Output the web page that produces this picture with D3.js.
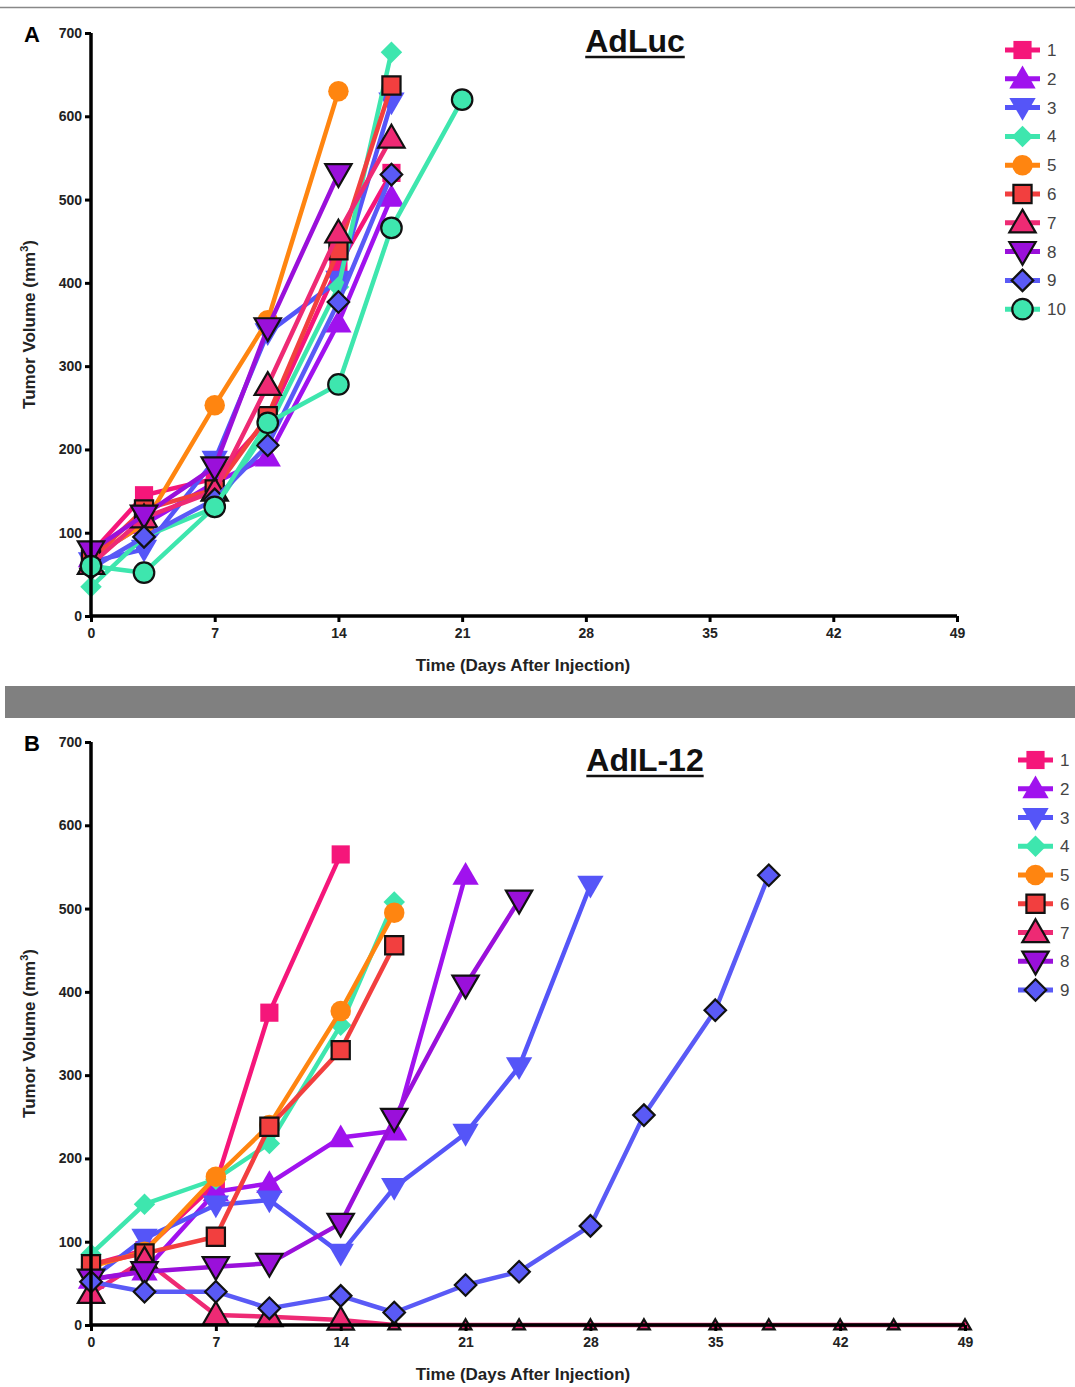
<!DOCTYPE html>
<html><head><meta charset="utf-8">
<script src="https://cdn.jsdelivr.net/npm/d3@7"></script>
<style>body{margin:0;background:#fff;} svg{display:block;font-family:"Liberation Sans",Arial,sans-serif;}</style>
</head><body>
<svg id="chart" width="1075" height="1387"></svg>
<script>
// ---------- data ----------
const seriesNames = ["1","2","3","4","5","6","7","8","9","10"];
const seriesColors = ["#F5167A","#A012EE","#5555F8","#3EE6AE","#FF8510","#F23F3F","#EE2A74","#9A10DA","#5A5AF6","#3EE6AE"];
const seriesShapes = ["square","up","down","diamond","circle","square","up","down","diamond","circle"];
const seriesBordered = [false,false,false,false,false,true,true,true,true,true];

const yTicks = [0,100,200,300,400,500,600,700];
const xTicks = [0,7,14,21,28,35,42,49];

// Panel A: AdLuc
const adLucDays = [0,3,7,10,14,17,21];
const adLuc1  = [75,145,165,235,420,532,null];
const adLuc2  = [70,110,160,191,352,503,null];
const adLuc3  = [65,80,187,340,403,617,null];
const adLuc4  = [35,95,130,225,395,677,null];
const adLuc5  = [70,110,253,355,630,null,null];
const adLuc6  = [68,128,152,240,439,637,null];
const adLuc7  = [62,118,150,277,460,574,null];
const adLuc8  = [78,121,179,346,531,null,null];
const adLuc9  = [57,95,140,205,377,530,null];
const adLuc10 = [60,52,131,232,278,466,620];

// Panel B: AdIL-12
const adIL12Days = [0,3,7,10,14,17,21,24,28,31,35,38,42,45,49];
const adIL1 = [72,90,170,375,565];
const adIL2 = [55,65,160,170,225,233,540];
const adIL3 = [55,104,144,150,86,165,230,310,528];
const adIL4 = [85,145,175,218,360,508];
const adIL5 = [70,88,178,240,377,495];
const adIL6 = [73,86,106,238,330,456];
const adIL7 = [38,78,12,10,6,0,0,0,0,0,0,0,0,0,0];
const adIL8 = [55,64,70,74,122,248,408,510];
const adIL9 = [52,40,40,20,35,15,48,64,119,252,378,540];

const panelA = {label:"A", title:"AdLuc", days:adLucDays,
  series:[adLuc1,adLuc2,adLuc3,adLuc4,adLuc5,adLuc6,adLuc7,adLuc8,adLuc9,adLuc10],
  x0:91, x1:957, yTop:33, yBot:616, titleX:635, titleY:52,
  legX:1005, legY:50, legStep:28.8, labelY:40};
const panelB = {label:"B", title:"AdIL-12", days:adIL12Days,
  series:[adIL1,adIL2,adIL3,adIL4,adIL5,adIL6,adIL7,adIL8,adIL9],
  x0:91, x1:965, yTop:742, yBot:1325, titleX:645, titleY:771,
  legX:1018, legY:760, legStep:28.75, labelY:749};

const svg = d3.select("#chart");

// frame decorations
svg.append("line").attr("x1",0).attr("x2",1075).attr("y1",7.5).attr("y2",7.5)
  .attr("stroke","#888").attr("stroke-width",1.5);
svg.append("rect").attr("x",5).attr("y",686).attr("width",1070).attr("height",32).attr("fill","#808080");

function symbolPath(shape, size){
  if (shape==="diamond"){
    const r = Math.sqrt(size)/1.5;
    return `M0,${-r}L${r},0L0,${r}L${-r},0Z`;
  }
  const map = {square:d3.symbolSquare, up:d3.symbolTriangle, down:d3.symbolTriangle, circle:d3.symbolCircle};
  return d3.symbol().type(map[shape]).size(size)();
}
function symbolTransform(shape, x, y){
  if (shape==="up") return `translate(${x},${y+2})`;
  if (shape==="down") return `translate(${x},${y-2}) rotate(180)`;
  return `translate(${x},${y})`;
}
const symSize = {square:330, up:300, down:300, diamond:260, circle:330};

function drawPanel(p){
  const g = svg.append("g");
  const x = d3.scaleLinear().domain([0,49]).range([p.x0,p.x1]);
  const y = d3.scaleLinear().domain([0,700]).range([p.yBot,p.yTop]);

  // series
  p.series.forEach((vals,i)=>{
    const pts = vals.map((v,j)=>({d:p.days[j], v})).filter(q=>q.v!==null && q.v!==undefined);
    const line = d3.line().x(q=>x(q.d)).y(q=>y(q.v));
    g.append("path").datum(pts).attr("d",line).attr("fill","none")
      .attr("stroke",seriesColors[i]).attr("stroke-width",4.5).attr("stroke-linejoin","round");
    const shape = seriesShapes[i];
    const small = (p.label==="B" && i===6);
    g.selectAll(null).data(pts).enter().append("path")
      .attr("d", q => symbolPath(shape, (small && q.d>=17) ? 60 : symSize[shape]))
      .attr("transform", q => symbolTransform(shape, x(q.d), y(q.v) - ((small && q.d>=17)?1:0)))
      .attr("fill", seriesColors[i])
      .attr("stroke", seriesBordered[i] ? "#111" : "none")
      .attr("stroke-width", 2.2);
  });

  // axes
  const yAxis = d3.axisLeft(y).tickValues(yTicks).tickSize(6).tickPadding(3);
  const xAxis = d3.axisBottom(x).tickValues(xTicks).tickSize(6).tickPadding(6);
  const ya = g.append("g").attr("transform",`translate(${p.x0},0)`).call(yAxis);
  const xa = g.append("g").attr("transform",`translate(0,${p.yBot})`).call(xAxis);
  [ya,xa].forEach(a=>{
    a.select(".domain").attr("stroke","#000").attr("stroke-width",3.5);
    a.selectAll(".tick line").attr("stroke","#000").attr("stroke-width",3);
    a.selectAll(".tick text").attr("fill","#222").attr("font-size",14).attr("font-weight","bold")
      .attr("font-family","Liberation Sans, Arial, sans-serif");
  });
  xa.select(".domain").attr("d",`M${p.x0},0H${p.x1}`);
  ya.select(".domain").attr("d",`M0,${p.yBot}V${p.yTop}`);

  // axis titles
  const yMid = (p.yTop+p.yBot)/2;
  const yt = g.append("text").attr("transform",`translate(35,${yMid}) rotate(-90)`)
    .attr("text-anchor","middle").attr("font-size",17).attr("font-weight","bold").attr("fill","#222");
  yt.append("tspan").text("Tumor Volume (mm");
  yt.append("tspan").text("3").attr("font-size",11).attr("dy",-7);
  yt.append("tspan").text(")").attr("dy",7);
  g.append("text").attr("x",523).attr("y",p.yBot+55).attr("text-anchor","middle")
    .attr("font-size",17).attr("font-weight","bold").attr("fill","#222").text("Time (Days After Injection)");

  // panel label
  g.append("text").attr("x",24).attr("y",p.labelY+2).attr("font-size",22).attr("font-weight","bold").text(p.label);

  // title
  const t = g.append("text").attr("x",p.titleX).attr("y",p.titleY).attr("text-anchor","middle")
    .attr("font-size",32).attr("font-weight","bold").attr("fill","#111").text(p.title);
  const bb = t.node().getBBox();
  g.append("line").attr("x1",bb.x).attr("x2",bb.x+bb.width).attr("y1",p.titleY+5).attr("y2",p.titleY+5)
    .attr("stroke","#111").attr("stroke-width",2.5);

  // legend
  p.series.forEach((vals,i)=>{
    const ly = p.legY + i*p.legStep;
    const lg = g.append("g");
    lg.append("line").attr("x1",p.legX).attr("x2",p.legX+35).attr("y1",ly).attr("y2",ly)
      .attr("stroke",seriesColors[i]).attr("stroke-width",5);
    lg.append("path").attr("d",symbolPath(seriesShapes[i], symSize[seriesShapes[i]]))
      .attr("transform",symbolTransform(seriesShapes[i], p.legX+17.5, ly))
      .attr("fill",seriesColors[i]).attr("stroke",seriesBordered[i]?"#111":"none").attr("stroke-width",2.2);
    lg.append("text").attr("x",p.legX+42).attr("y",ly+6).attr("font-size",17).attr("fill","#444").text(seriesNames[i]);
  });
}
drawPanel(panelA);
drawPanel(panelB);
</script>
</body></html>
